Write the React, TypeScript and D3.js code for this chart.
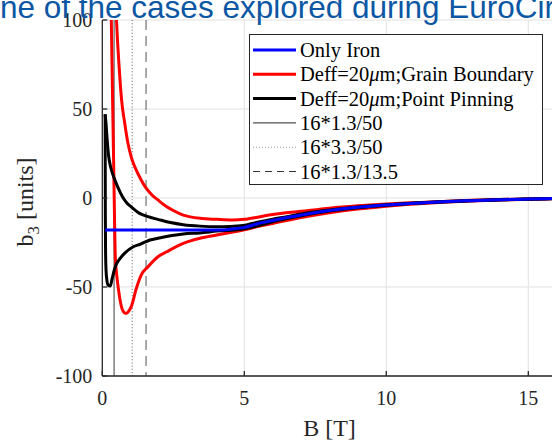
import React from "react";
import * as d3 from "d3";

// Field values [T] and sextupole b3 [units] for each branch
const ironB = [0.1, 1, 2, 3, 4, 4.5, 5, 5.5, 6, 6.5, 7, 8, 9, 10, 11, 12, 13, 14, 15, 16];
const ironB3 = [-18, -18, -18, -18, -18, -17.5, -16.5, -14.3, -12.6, -11, -9.5, -7, -5.2, -3.9, -2.9, -2.1, -1.5, -1.0, -0.6, -0.3];

const gbUpB = [0.42, 0.5, 0.6, 0.68, 0.79, 0.9, 1.02, 1.2, 1.37, 1.5, 1.73, 1.96, 2.27, 2.5, 2.85, 3.1, 3.44, 4.03, 4.6, 5.0, 5.55, 6, 7, 8, 9, 10, 11, 12, 13, 14, 15, 16];
const gbUpB3 = [140, 100, 72, 55, 42, 31, 23, 15.5, 10.1, 6.5, 2, -1.1, -4.9, -7, -9.6, -10.6, -11.4, -12, -12.4, -12, -10.5, -9.3, -7.5, -5.7, -4.4, -3.4, -2.6, -1.9, -1.3, -0.9, -0.5, -0.2];

const gbDownB = [0.29, 0.317, 0.35, 0.377, 0.41, 0.437, 0.46, 0.52, 0.58, 0.69, 0.78, 0.85, 0.93, 1.02, 1.2, 1.37, 1.61, 1.96, 2.27, 2.85, 3.44, 4.03, 4.96, 5.55, 6, 7, 8, 9, 10, 11, 12, 13, 14, 15, 16];
const gbDownB3 = [140, 100, 68, 41, 10, -18, -34, -45, -52.6, -62, -64.5, -64.8, -63.5, -61, -50.7, -43.3, -38.6, -33, -30.2, -25.5, -22.6, -20.8, -18, -15.8, -14.3, -11, -8.3, -6.2, -4.6, -3.4, -2.4, -1.7, -1.1, -0.7, -0.4];

const ppUpB = [0.1, 0.13, 0.17, 0.22, 0.3, 0.4, 0.55, 0.7, 0.85, 1.02, 1.3, 1.61, 1.96, 2.4, 2.85, 3.44, 4.03, 4.5, 4.96, 5.55, 6, 6.5, 7, 8, 9, 10, 11, 12, 13, 14, 15, 16];
const ppUpB3 = [47, 42, 33, 24, 17, 12, 6, 1, -2.5, -5, -8.5, -10.5, -12, -13.8, -15, -15.8, -16.1, -16, -15.5, -13.3, -11.9, -10.5, -9, -6.7, -5, -3.8, -2.8, -2, -1.4, -0.9, -0.5, -0.2];

const ppDownB = [0.1, 0.103, 0.107, 0.115, 0.13, 0.16, 0.2, 0.28, 0.35, 0.44, 0.5, 0.6, 0.79, 1.09, 1.33, 1.68, 1.96, 2.85, 3.44, 4.03, 4.96, 5.55, 6, 6.5, 7, 8, 9, 10, 11, 12, 13, 14, 15, 16];
const ppDownB3 = [47, 20, -10, -30, -40, -46, -48.8, -49.5, -45, -39.5, -37, -34.5, -31, -27.4, -26, -23.6, -22.6, -20.2, -19.6, -18.6, -17.4, -15.3, -13.4, -11.6, -10, -7.3, -5.5, -4.1, -3.0, -2.2, -1.6, -1.1, -0.7, -0.4];

// Reference field levels drawn as vertical lines
const refLabels = ["16*1.3/50", "16*3.3/50", "16*1.3/13.5"];
const refValues = [(16 * 1.3) / 50, (16 * 3.3) / 50, (16 * 1.3) / 13.5];

const xTicks = [0, 5, 10, 15];
const yTicks = [-100, -50, 0, 50, 100];

const W = 552;
const H = 442;
const plot = { left: 102.3, right: 556.7, top: 20, bottom: 376 };

const serif = "'Liberation Serif', 'Times New Roman', serif";

export default function App() {
  const x = d3.scaleLinear().domain([0, 16]).range([plot.left, plot.right]);
  const y = d3.scaleLinear().domain([-100, 100]).range([plot.bottom, plot.top]);

  const line = d3
    .line<[number, number]>()
    .x((d) => x(d[0]))
    .y((d) => y(d[1]))
    .curve(d3.curveMonotoneX);

  const zip = (a: number[], b: number[]) => a.map((v, i) => [v, b[i]] as [number, number]);

  const curves = [
    { d: zip(gbUpB, gbUpB3), color: "#ff0000" },
    { d: zip(gbDownB, gbDownB3), color: "#ff0000" },
    { d: zip(ppUpB, ppUpB3), color: "#000000" },
    { d: zip(ppDownB, ppDownB3), color: "#000000" },
    { d: zip(ironB, ironB3), color: "#0000ff" },
  ];

  const refStyles = [
    { stroke: "#7f7f7f", dash: undefined as string | undefined, legendStroke: "#262626" },
    { stroke: "#8c8c8c", dash: "1,2.2", legendStroke: "#9a9a9a" },
    { stroke: "#8c8c8c", dash: "10,6", legendStroke: "#333333" },
  ];

  const legendItems = [
    { label: ["Only Iron"], color: "#0000ff", w: 3, dash: undefined as string | undefined },
    { label: ["Deff=20", "μ", "m;Grain Boundary"], color: "#ff0000", w: 3, dash: undefined },
    { label: ["Deff=20", "μ", "m;Point Pinning"], color: "#000000", w: 3, dash: undefined },
    { label: [refLabels[0]], color: refStyles[0].legendStroke, w: 1, dash: undefined },
    { label: [refLabels[1]], color: refStyles[1].legendStroke, w: 1, dash: "1,2" },
    { label: [refLabels[2]], color: refStyles[2].legendStroke, w: 1, dash: "7,5" },
  ];

  const legend = { x: 249.5, y: 34.5, w: 293, h: 150 };

  return (
    <svg
      width={W}
      height={H}
      viewBox={`0 0 ${W} ${H}`}
      style={{ position: "absolute", left: 0, top: 0, background: "#ffffff" }}
    >
      <defs>
        <clipPath id="plotClip">
          <rect x={plot.left} y={plot.top} width={plot.right - plot.left} height={plot.bottom - plot.top} />
        </clipPath>
      </defs>
      <rect x={0} y={0} width={W} height={H} fill="#ffffff" />

      {/* grid */}
      {xTicks.filter((t) => t > 0).map((t) => (
        <line key={`gx${t}`} x1={x(t)} x2={x(t)} y1={plot.top} y2={plot.bottom} stroke="#e1e1e1" strokeWidth={1} />
      ))}
      {yTicks.map((t) => (
        <line key={`gy${t}`} x1={plot.left} x2={plot.right} y1={y(t)} y2={y(t)} stroke="#e1e1e1" strokeWidth={1} />
      ))}

      {/* reference field levels and b3 curves */}
      <g clipPath="url(#plotClip)">
        {refValues.map((v, i) => (
          <line
            key={`ref${i}`}
            x1={x(v)}
            x2={x(v)}
            y1={plot.top}
            y2={plot.bottom}
            stroke={refStyles[i].stroke}
            strokeWidth={1.5}
            strokeDasharray={refStyles[i].dash}
          />
        ))}
        {curves.map((c, i) => (
          <path key={`c${i}`} d={line(c.d) || ""} fill="none" stroke={c.color} strokeWidth={3} strokeLinejoin="round" />
        ))}
      </g>

      {/* axes */}
      <line x1={plot.left} x2={plot.left} y1={plot.top} y2={plot.bottom} stroke="#262626" strokeWidth={1.3} />
      <line x1={plot.left} x2={plot.right} y1={plot.bottom} y2={plot.bottom} stroke="#262626" strokeWidth={1.3} />
      {yTicks.map((t) => (
        <g key={`yt${t}`}>
          <line x1={plot.left} x2={plot.left + 5} y1={y(t)} y2={y(t)} stroke="#262626" strokeWidth={1.3} />
          <text
            x={plot.left - 10}
            y={y(t) + 7}
            textAnchor="end"
            fontFamily={serif}
            fontSize={20}
            fill="#262626"
          >
            {t}
          </text>
        </g>
      ))}
      {xTicks.map((t) => (
        <g key={`xt${t}`}>
          <line x1={x(t)} x2={x(t)} y1={plot.bottom} y2={plot.bottom - 5} stroke="#262626" strokeWidth={1.3} />
          <text x={x(t)} y={405} textAnchor="middle" fontFamily={serif} fontSize={20} fill="#262626">
            {t}
          </text>
        </g>
      ))}

      {/* axis labels */}
      <text x={(plot.left + plot.right) / 2} y={436} textAnchor="middle" fontFamily={serif} fontSize={24} fill="#262626">
        B [T]
      </text>
      <text
        transform={`translate(33, ${(plot.top + plot.bottom) / 2 + 4}) rotate(-90)`}
        textAnchor="middle"
        fontFamily={serif}
        fontSize={24}
        fill="#262626"
      >
        b<tspan fontSize={17} dy={6}>3</tspan>
        <tspan dy={-6}> [units]</tspan>
      </text>

      {/* legend */}
      <rect x={legend.x} y={legend.y} width={legend.w} height={legend.h} fill="#ffffff" stroke="#262626" strokeWidth={1} />
      {legendItems.map((it, i) => {
        const cy = 50 + i * 24.3;
        return (
          <g key={`lg${i}`}>
            <line x1={253} x2={296} y1={cy} y2={cy} stroke={it.color} strokeWidth={it.w} strokeDasharray={it.dash} />
            <text x={300} y={cy + 7} fontFamily={serif} fontSize={20.5} fill="#000000">
              {it.label.length === 1 ? (
                it.label[0]
              ) : (
                <>
                  {it.label[0]}
                  <tspan fontStyle="italic">{it.label[1]}</tspan>
                  {it.label[2]}
                </>
              )}
            </text>
          </g>
        );
      })}

      {/* slide heading */}
      <text x={-24.5} y={18} fontFamily="'Liberation Sans', Arial, sans-serif" fontSize={31.5} fill="#0b57a4">
        One of the cases explored during EuroCirCol
      </text>
    </svg>
  );
}
